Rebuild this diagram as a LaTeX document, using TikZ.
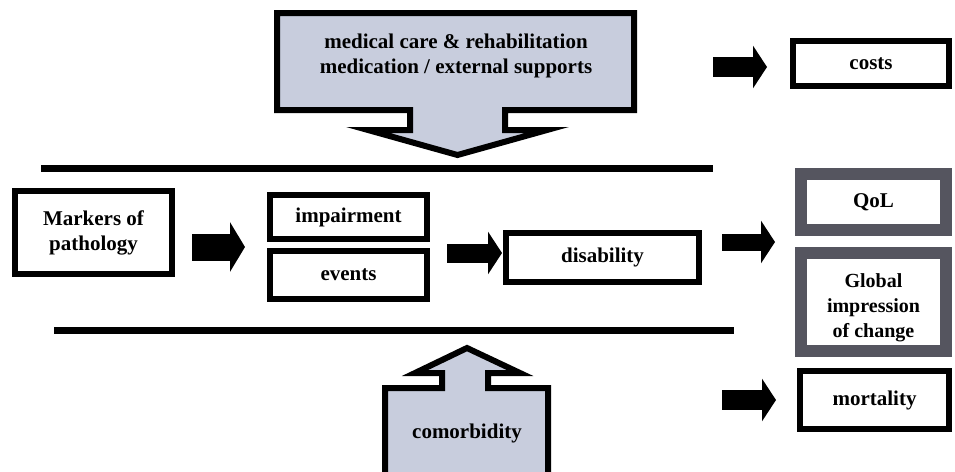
\documentclass[tikz,border=0pt]{standalone}
\usepackage{fontspec}
\setmainfont{Liberation Serif}
\usetikzlibrary{arrows.meta,calc}
\definecolor{calloutfill}{HTML}{C8CDDD}
\definecolor{framegray}{HTML}{55555F}
\tikzset{
  box/.style={draw=black, line width=6pt, fill=white, align=center, inner sep=0pt,
    font=\fontsize{21}{25}\selectfont\bfseries},
  graybox/.style={box, draw=framegray, line width=12pt},
  callout/.style={draw=black, line width=6pt, fill=calloutfill, line join=miter},
  calltext/.style={align=center, font=\fontsize{21}{25}\selectfont\bfseries},
  blockarrow/.style={draw=black, line width=#1, -{Triangle[length=14pt 0 0, width=42pt 0 0]}},
  blockarrow/.default=20pt,
  bigarrow/.style={draw=black, line width=27pt, -{Triangle[length=15pt 0 0, width=49pt 0 0]}},
  rule/.style={draw=black, line width=7pt}
}
\begin{document}
\begin{tikzpicture}[x=1pt,y=-1pt]
\useasboundingbox (0,0) rectangle (955,471);
\fill[white] (0,0) rectangle (955,471);

% top callout
\draw[callout] (277,13) -- (634,13) -- (634,110) -- (505,110) -- (505,130) -- (547,130)
  -- (457.5,155) -- (368,130) -- (410,130) -- (410,110) -- (277,110) -- cycle;
\node[calltext] (care) at (456,56) {medical care \& rehabilitation\\medication / external supports};

% bottom callout
\draw[callout] (385,480) -- (385,388) -- (442,388) -- (442,373) -- (415,373) -- (467,348)
  -- (520,373) -- (488,373) -- (488,388) -- (548,388) -- (548,480);
\node[calltext] (comorb) at (467,433) {comorbidity};

% rules
\draw[rule] (41,168.5) -- (713,168.5);
\draw[rule] (54,330.5) -- (734,330.5);

% boxes
\node[box, minimum width=156pt, minimum height=45pt] (costs) at (871,63.5) {costs};
\node[box, minimum width=157pt, minimum height=83pt] (markers) at (93.5,232.5) {Markers of\\pathology};
\node[box, minimum width=157pt, minimum height=44pt] (impairment) at (348.5,217) {impairment};
\node[box, minimum width=157pt, minimum height=48pt] (events) at (348.5,275) {events};
\node[box, minimum width=193pt, minimum height=49pt] (disability) at (602.5,257.5) {disability};
\node[graybox, minimum width=145pt, minimum height=56pt] (qol) at (873.5,202) {QoL};
\node[graybox, minimum width=145pt, minimum height=98pt, font=\fontsize{20}{25}\selectfont\bfseries] (global) at (873.5,302) {\rule{0pt}{26pt}Global\\impression\\of change};
\node[box, minimum width=149pt, minimum height=58pt] (mortality) at (874.5,400) {mortality};

% connector anchors
\coordinate (ie) at (348.5,247);
\coordinate (og) at (873.5,242);
\coordinate (ca) at (713,67);
\coordinate (ma) at (722,400);

% block arrows
\draw[bigarrow, shorten <=17pt, shorten >=22pt] (markers.east |- ie) -- (impairment.west |- ie);
\draw[blockarrow=19pt, shorten <=17pt, shorten >=1pt] (impairment.east |- 0,253) -- (disability.west |- 0,253);
\draw[blockarrow=17pt, shorten <=20pt, shorten >=20pt] (disability.east |- og) -- (qol.west |- og);
\draw[blockarrow, shorten >=23pt] (ca) -- (ca -| costs.west);
\draw[blockarrow, shorten >=21pt] (ma) -- (mortality.west);
\end{tikzpicture}
\end{document}
